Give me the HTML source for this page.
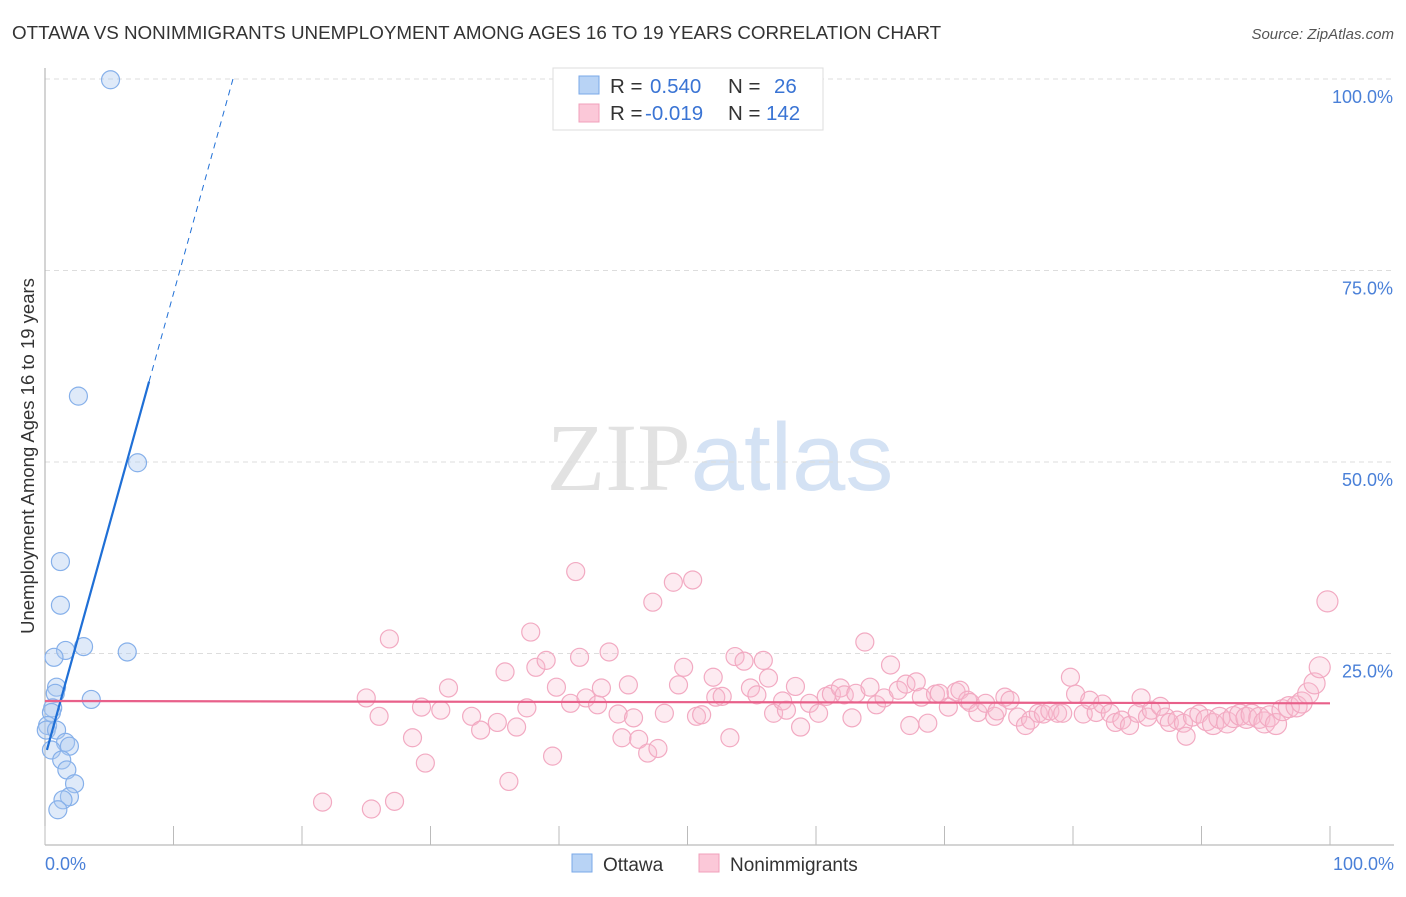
<!DOCTYPE html>
<html><head><meta charset="utf-8"><style>
body{margin:0;background:#fff;font-family:"Liberation Sans",sans-serif}
svg text{font-family:"Liberation Sans",sans-serif}
</style></head><body>
<svg id="chart" width="1406" height="892" viewBox="0 0 1406 892">
<text x="12" y="39" font-size="18.8" fill="#333">OTTAWA VS NONIMMIGRANTS UNEMPLOYMENT AMONG AGES 16 TO 19 YEARS CORRELATION CHART</text>
<text x="1394" y="39" font-size="15" fill="#555" text-anchor="end" font-style="italic">Source: ZipAtlas.com</text>
<text x="720" y="490" font-size="96" text-anchor="middle"><tspan fill="#e2e2e2" font-family="Liberation Serif">ZIP</tspan><tspan fill="#d4e2f4">atlas</tspan></text>
<g id="grid"></g>
<g id="axes"></g>
<g id="pink"></g>
<g id="blue"></g>
<g id="trends"></g>
<text transform="translate(34,456) rotate(-90)" font-size="18.5" fill="#333" text-anchor="middle">Unemployment Among Ages 16 to 19 years</text>
<text x="45" y="870" font-size="18" fill="#4a80d8">0.0%</text>
<text x="1394" y="870" font-size="18" fill="#4a80d8" text-anchor="end">100.0%</text>
<g>
<rect x="553" y="68" width="270" height="62" fill="#fff" stroke="#ddd"/>
<rect x="579" y="76" width="20" height="18" fill="#b8d3f5" stroke="#7aa8e8"/>
<rect x="579" y="104" width="20" height="18" fill="#fbc8d8" stroke="#f0a0bb"/>
<text x="610" y="93" font-size="20.5" fill="#333">R = <tspan fill="#3a74d4" x="650">0.540</tspan><tspan x="728" fill="#333">N =</tspan><tspan x="774" fill="#3a74d4">26</tspan></text>
<text x="610" y="120" font-size="20.5" fill="#333">R = <tspan fill="#3a74d4" x="645">-0.019</tspan><tspan x="728" fill="#333">N =</tspan><tspan x="766" fill="#3a74d4">142</tspan></text>
</g>
<g>
<rect x="572" y="854" width="20" height="18" fill="#b8d3f5" stroke="#7aa8e8"/>
<text x="603" y="871" font-size="19" fill="#333">Ottawa</text>
<rect x="699" y="854" width="20" height="18" fill="#fbc8d8" stroke="#f0a0bb"/>
<text x="730" y="871" font-size="19" fill="#333">Nonimmigrants</text>
</g>
</svg>
<script>
const yTicks=[25,50,75,100];
const yTickLabels=["25.0%","50.0%","75.0%","100.0%"];
const xTicks=[0,10,20,30,40,50,60,70,80,90,100];
const ottawaX=[5.1,2.6,7.2,1.2,1.2,1.6,3.0,6.4,0.7,0.9,0.8,3.6,0.6,0.5,0.2,0.1,0.9,1.6,1.9,0.5,1.3,1.7,2.3,1.9,1.4,1.0];
const ottawaY=[99.9,58.6,49.9,37.0,31.3,25.4,25.9,25.2,24.5,20.6,19.8,19.0,17.9,17.3,15.6,15.0,15.0,13.4,12.9,12.4,11.1,9.8,8.0,6.3,5.9,4.6];
const nonX=[21.6,25.4,27.2,26.8,25.0,26.0,28.6,29.6,29.3,30.8,31.4,33.2,33.9,35.2,36.1,36.7,35.8,37.5,37.8,38.2,39.0,39.5,39.8,40.9,41.3,41.6,42.1,43.0,43.3,43.9,44.6,44.9,45.4,45.8,46.2,46.9,47.3,47.7,48.2,48.9,49.3,49.7,50.4,50.7,51.1,52.0,52.2,52.7,53.3,53.7,54.4,54.9,55.4,55.9,56.3,56.7,57.4,57.7,58.4,58.8,59.5,60.2,60.8,61.2,61.9,62.2,62.8,63.1,63.8,64.2,64.7,65.3,65.8,66.4,67.0,67.3,67.8,68.2,68.7,69.3,69.6,70.3,70.9,71.2,71.8,72.0,72.6,73.2,73.9,74.1,74.7,75.1,75.7,76.3,76.7,77.3,77.7,78.2,78.8,79.2,79.8,80.2,80.8,81.3,81.8,82.3,82.9,83.3,83.8,84.4,85.0,85.3,85.8,86.1,86.8,87.2,87.5,88.1,88.6,88.8,89.3,89.8,90.4,90.9,91.4,92.0,92.5,93.0,93.5,93.9,94.5,94.9,95.3,95.8,96.3,96.8,97.4,97.8,98.3,98.8,99.2,99.8];
const nonY=[5.6,4.7,5.7,26.9,19.2,16.8,14.0,10.7,18.0,17.6,20.5,16.8,15.0,16.0,8.3,15.4,22.6,17.9,27.8,23.2,24.1,11.6,20.6,18.5,35.7,24.5,19.2,18.3,20.5,25.2,17.1,14.0,20.9,16.6,13.8,12.0,31.7,12.6,17.2,34.3,20.9,23.2,34.6,16.8,17.0,21.9,19.3,19.4,14.0,24.6,24.0,20.5,19.6,24.1,21.8,17.2,18.8,17.6,20.7,15.4,18.5,17.2,19.4,19.7,20.5,19.6,16.6,19.8,26.5,20.6,18.3,19.2,23.5,20.2,21.0,15.6,21.3,19.3,15.9,19.7,19.8,18.0,20.0,20.2,18.9,18.6,17.3,18.5,16.8,17.5,19.3,18.9,16.7,15.6,16.3,17.2,17.1,17.5,17.2,17.2,21.9,19.7,17.1,18.9,17.3,18.4,17.2,16.0,16.3,15.6,17.2,19.2,16.7,17.6,18.1,16.7,16.0,16.3,15.9,14.2,16.7,17.1,16.3,15.8,16.6,16.0,16.7,17.0,16.6,17.0,16.6,16.0,16.8,15.8,17.6,18.0,18.1,18.6,19.8,21.1,23.2,31.8];
const ottawaTrend=[11.5,6.05];
const nonTrend=[18.8,-0.003];
const X0=45,X1=1330,Y0=845,Y100=79;
const sx=v=>X0+(X1-X0)*v/100, sy=v=>Y0-(Y0-Y100)*v/100;
const NS="http://www.w3.org/2000/svg";
function mk(tag,attrs,parent){const e=document.createElementNS(NS,tag);for(const k in attrs)e.setAttribute(k,attrs[k]);parent.appendChild(e);return e;}
const grid=document.getElementById('grid'),axes=document.getElementById('axes');
yTicks.forEach((t,i)=>{
 const l=mk('line',{x1:X0,x2:1394,y1:sy(t),y2:sy(t),stroke:'#ddd','stroke-dasharray':'5,4'},grid);
 
 
 const tx=mk('text',{x:1393,y:sy(t)+24,'font-size':18,fill:'#4a80d8','text-anchor':'end'},axes);
 tx.textContent=yTickLabels[i];
 
 
});
mk('line',{x1:X0,x2:X0,y1:68,y2:Y0,stroke:'#aaa'},axes);
mk('line',{x1:X0,x2:1394,y1:Y0,y2:Y0,stroke:'#aaa'},axes);
xTicks.forEach(t=>{const l=mk('line',{x1:sx(t),x2:sx(t),y1:826,y2:Y0,stroke:'#bbb'},axes);
 
 });
const pink=document.getElementById('pink');
nonX.forEach((x,i)=>{const c=mk('circle',{cx:sx(x),cy:sy(nonY[i]),r:x>90?10.5:9,fill:'rgba(248,190,210,0.3)',stroke:'#f2aac2','stroke-width':1.2},pink);
 
 });
const blue=document.getElementById('blue');
ottawaX.forEach((x,i)=>{const c=mk('circle',{cx:sx(x),cy:sy(ottawaY[i]),r:9,fill:'rgba(170,200,240,0.38)',stroke:'#86b0ea','stroke-width':1.2},blue);
 
 });
const tr=document.getElementById('trends');
const f=x=>ottawaTrend[0]+ottawaTrend[1]*x;
const l1=mk('line',{x1:sx(0.15),y1:sy(f(0.15)),x2:sx(8.1),y2:sy(f(8.1)),stroke:'#1f6fd6','stroke-width':2.2},tr);


const xe=(100-ottawaTrend[0])/ottawaTrend[1];
const l2=mk('line',{x1:sx(8.1),y1:sy(f(8.1)),x2:sx(xe),y2:sy(100),stroke:'#1f6fd6','stroke-width':1,'stroke-dasharray':'6,5'},tr);


const g=x=>nonTrend[0]+nonTrend[1]*x;
const l3=mk('line',{x1:sx(0),y1:sy(g(0)),x2:sx(100),y2:sy(g(100)),stroke:'#e8608a','stroke-width':2.2},tr);


</script>
</body></html>
